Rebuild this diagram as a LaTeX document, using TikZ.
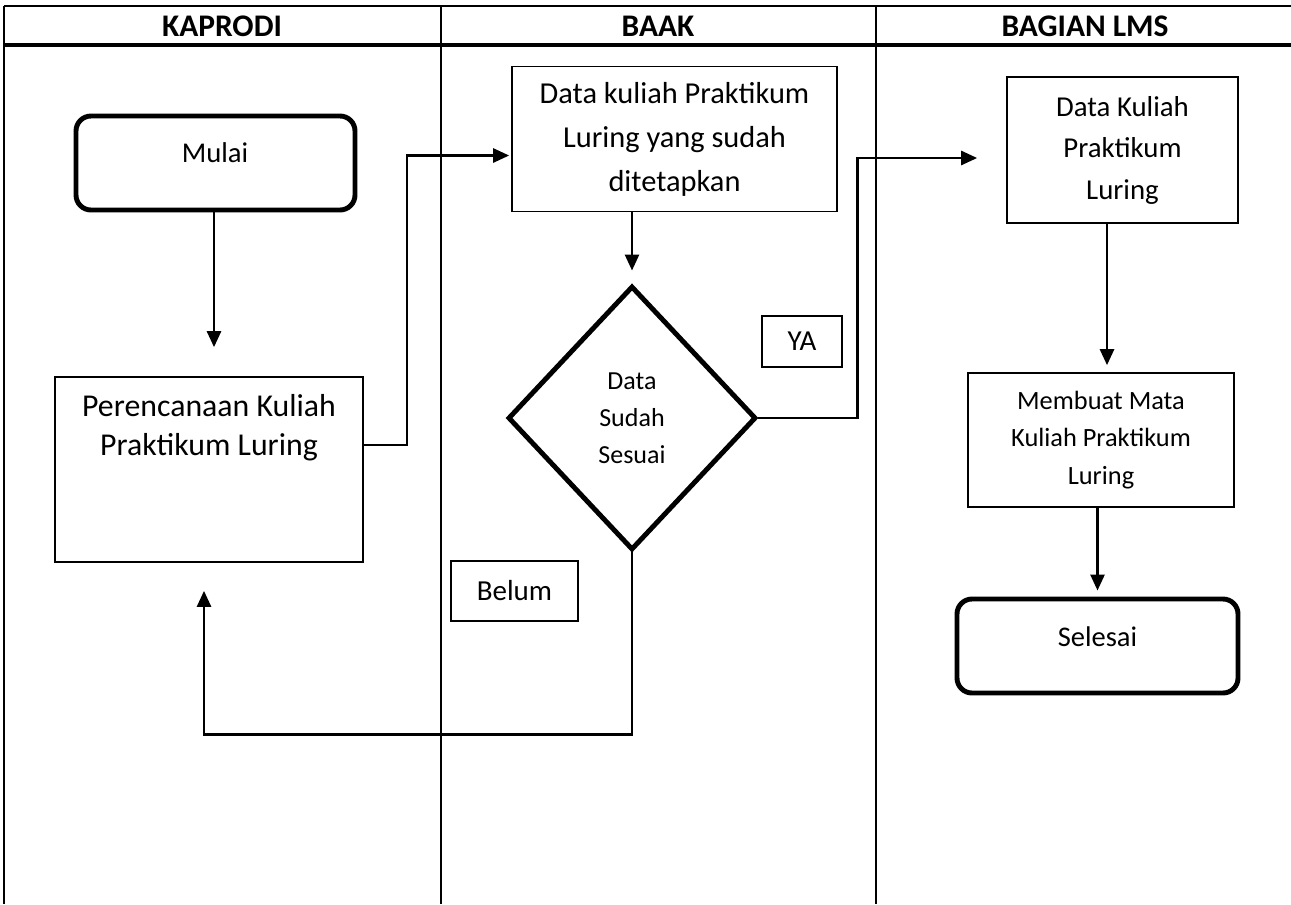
\documentclass[tikz,border=0pt]{standalone}
\usepackage{fontspec}
\setmainfont{Carlito}
\usetikzlibrary{shapes.geometric,arrows.meta}

\tikzset{
  proses/.style={draw, line width=0.95pt, inner sep=0pt, align=center},
  terminal/.style={draw, line width=2.8pt, rounded corners=3mm, inner sep=0pt},
  keputusan/.style={draw, diamond, line width=2.8pt, inner sep=0pt, align=center},
  alur/.style={line width=1.5pt, -{Triangle[length=3.2mm,width=2.8mm]}},
}

\begin{document}
\begin{tikzpicture}[x=0.2mm, y=-0.2mm, line join=miter]
			\useasboundingbox (0,0) rectangle (1291,904);
			%Batas lajur
			\def\xa{4}   \def\xb{441}   \def\xc{876}   \def\xd{1291}
			\def\ytop{6} \def\yhead{45} \def\ybot{904}
			%Garis tabel
			\draw[line width=1.4pt] (\xa,\ytop)--(\xd,\ytop);
			\draw[line width=1.9pt] (\xa,\yhead)--(\xd,\yhead);
			\foreach \x in {\xa,\xb,\xc}
			\draw[line width=1.2pt] (\x,\ytop)--(\x,\ybot);
			%Judul lajur
			\foreach \x/\judul [count=\i] in {222/KAPRODI,658/BAAK,1085/BAGIAN LMS}
			\node[font=\fontsize{17.9}{20}\selectfont\bfseries] (lajur\i) at (\x,26) {\judul};
			%Lajur KAPRODI
			\node[terminal, minimum width=55.8mm, minimum height=18.8mm] (mulai) at (215.5,163) {};
			\node[font=\fontsize{16.3}{19}\selectfont] (mulaiTeks) at (215,153) {Mulai};
			\node[proses, minimum width=61.6mm, minimum height=37mm] (rencana) at (209,469.5) {};
			\node[align=center, font=\fontsize{18.1}{22}\selectfont] (rencanaTeks) at (209,428)
			{Perencanaan Kuliah\\Praktikum Luring};
			%Lajur BAAK
			\node[proses, minimum width=65mm, minimum height=29mm, font=\fontsize{17.3}{25}\selectfont]
			(dataBaak) at (674.5,139) {Data kuliah Praktikum\\Luring yang sudah\\ditetapkan};
			\node[keputusan, minimum width=49.6mm, minimum height=52.8mm, font=\fontsize{14.8}{21}\selectfont]
			(cek) at (632,418) {Data\\Sudah\\Sesuai};
			\node[proses, minimum width=16mm, minimum height=10.2mm, font=\fontsize{16.5}{19}\selectfont]
			(ya) at (802,341.5) {YA};
			\node[proses, minimum width=25.4mm, minimum height=12mm, font=\fontsize{16.5}{19}\selectfont]
			(belum) at (514.5,591) {Belum};
			%Lajur BAGIAN LMS
			\node[proses, minimum width=46.2mm, minimum height=29.2mm, font=\fontsize{16.4}{23.6}\selectfont]
			(dataLms) at (1122.5,150) {Data Kuliah\\Praktikum\\Luring};
			\node[proses, minimum width=53.2mm, minimum height=26.8mm, font=\fontsize{15}{21.3}\selectfont]
			(membuat) at (1101,440) {Membuat Mata\\Kuliah Praktikum\\Luring};
			\node[terminal, minimum width=56.2mm, minimum height=18.8mm] (selesai) at (1097.5,646) {};
			\node[font=\fontsize{16.2}{19}\selectfont] (selesaiTeks) at (1097.5,637) {Selesai};
			%Jalur panah
			\coordinate (jalurA) at (214,0);
			\coordinate (jalurB) at (1107,0);
			\draw[alur, shorten >=5.8mm] (jalurA |- mulai.south)--(jalurA |- rencana.north);
			\draw[alur] ([yshift=4.9mm]rencana.east)--++(43,0) |- ([yshift=-3.3mm,xshift=-0.4mm]dataBaak.west);
			\draw[alur, shorten >=2.6mm] (cek.north |- dataBaak.south)--(cek.north);
			\draw[alur, shorten >=5.8mm] (cek.east)--++(99,0) |- ([yshift=-1.6mm]dataLms.west);
			\draw[alur, shorten >=5.6mm] (cek.south)--++(0,182) -| ([xshift=-1mm]rencana.south);
			\draw[alur, shorten >=1.4mm] (jalurB |- dataLms.south)--(jalurB |- membuat.north);
			\draw[alur, shorten >=1.2mm] (selesai.north |- membuat.south)--(selesai.north);
		\end{tikzpicture}
\end{document}
